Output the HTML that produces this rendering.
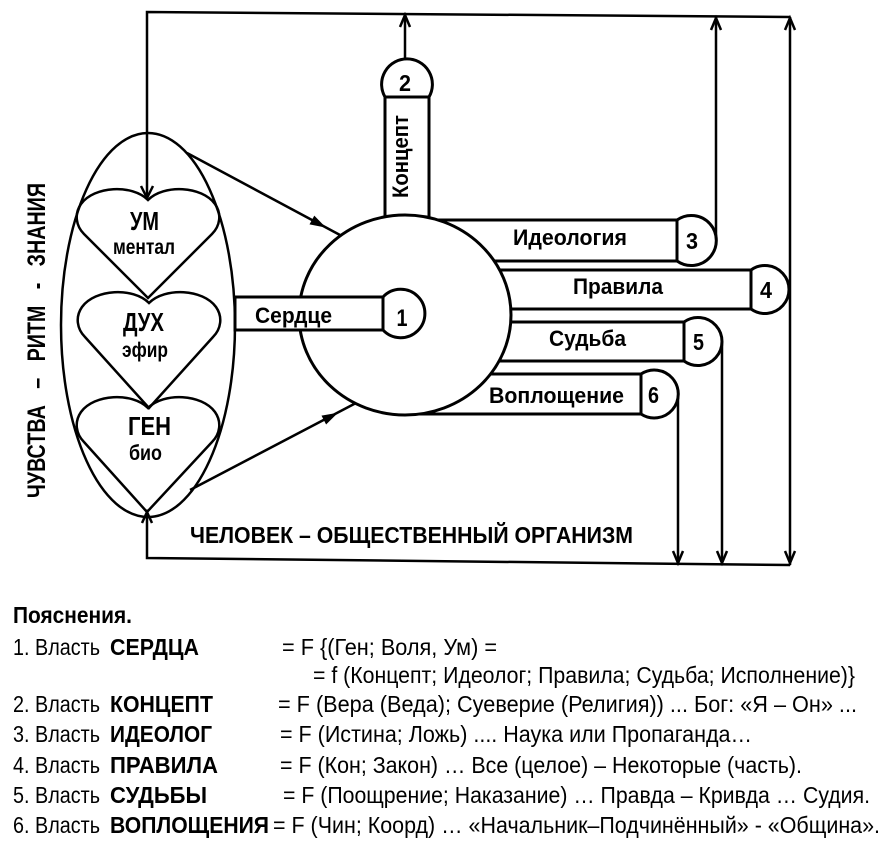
<!DOCTYPE html>
<html><head><meta charset="utf-8"><style>
html,body{margin:0;padding:0;background:#fff;}
svg{display:block;}
text{font-family:"Liberation Sans","DejaVu Sans",sans-serif;fill:#000;}
.b{font-weight:bold;}
.pre{white-space:pre;}
</style></head><body>
<svg width="891" height="848" viewBox="0 0 891 848" xmlns="http://www.w3.org/2000/svg">
<rect x="0" y="0" width="891" height="848" fill="#fff"/>

<!-- feedback loops -->
<g fill="none" stroke="#000" stroke-width="2.5" stroke-linejoin="miter">
  <path d="M147,198 L147,12 L790,17"/>
  <path d="M147,512 L147,558 L790,565"/>
  <path d="M790,17 L790,565"/>
  <path d="M716,241 L716,17"/>
  <path d="M722,342 L722,563"/>
  <path d="M678,394 L678,563"/>
  <path d="M405,59 L405,15"/>
  <!-- open arrowheads -->
  <path d="M141,186 L147,198 L153,186"/>
  <path d="M142,523 L147,512 L152,523"/>
  <path d="M400,27 L405,15 L410,27"/>
  <path d="M711,30 L716,18 L721,30"/>
  <path d="M785,30 L790,18 L795,30"/>
  <path d="M785,551 L790,563 L795,551"/>
  <path d="M717,551 L722,563 L727,551"/>
  <path d="M673,551 L678,563 L683,551"/>
  <!-- diagonal connectors -->
  <path d="M187,153 L340,235"/>
  <path d="M190,490 L356,403"/>
</g>
<polygon points="326,227.6 314.3,215.6 309.5,224.4" fill="#000"/>
<polygon points="338,412.8 326.1,424.5 321.5,415.6" fill="#000"/>

<!-- left ellipse and hearts -->
<g fill="none" stroke="#000" stroke-width="2.5">
  <ellipse cx="148" cy="325" rx="87" ry="192"/>
  <path d="M148,200 C132,184 94,186 81,204 C74,214 76,226 84,234 L148,298 L212,234 C220,226 222,214 215,204 C202,186 164,184 148,200 Z"/>
  <path d="M149,303 C133,287 95,289 82,307 C75,317 77,329 85,337 L149,408 L213,337 C221,329 223,317 216,307 C203,289 165,287 149,303 Z"/>
  <path d="M148,408 C132,392 94,394 81,412 C74,422 76,434 84,442 L147,512 L212,442 C220,434 222,422 215,412 C202,394 164,392 148,408 Z"/>
</g>

<!-- right boxes -->
<g fill="#fff" stroke="#000" stroke-width="3">
  <rect x="420" y="220" width="257" height="41"/>
  <rect x="480" y="270" width="271" height="39"/>
  <rect x="480" y="322" width="204" height="39"/>
  <rect x="415" y="374" width="226" height="40"/>
  <rect x="385" y="97" width="44" height="140"/>
  <path d="M677,220 A25 25 0 1 1 677,261 Z"/>
  <path d="M751,270 A24 24 0 1 1 751,309 Z"/>
  <path d="M684,322 A24 24 0 1 1 684,361 Z"/>
  <path d="M641,374 A24 24 0 1 1 641,414 Z"/>
  <path d="M385,97 A25.4 25.4 0 1 1 429,97 Z"/>
  <!-- big circle -->
  <ellipse cx="405" cy="315" rx="106" ry="100"/>
  <!-- heart box -->
  <rect x="235" y="297" width="148" height="33"/>
  <path d="M383,297 A24.2 24.2 0 1 1 383,330 Z"/>
</g>

<!-- heart labels -->
<g class="b">
  <text x="144.5" y="230" text-anchor="middle" font-size="26" textLength="29" lengthAdjust="spacingAndGlyphs">УМ</text>
  <text x="144" y="254" text-anchor="middle" font-size="21" textLength="62" lengthAdjust="spacingAndGlyphs">ментал</text>
  <text x="143.5" y="331" text-anchor="middle" font-size="26" textLength="41" lengthAdjust="spacingAndGlyphs">ДУХ</text>
  <text x="145" y="357" text-anchor="middle" font-size="21" textLength="46" lengthAdjust="spacingAndGlyphs">эфир</text>
  <text x="149.5" y="435" text-anchor="middle" font-size="26" textLength="43" lengthAdjust="spacingAndGlyphs">ГЕН</text>
  <text x="145.5" y="460" text-anchor="middle" font-size="21" textLength="33" lengthAdjust="spacingAndGlyphs">био</text>

  <text x="293.5" y="323" text-anchor="middle" font-size="22" textLength="77" lengthAdjust="spacingAndGlyphs">Сердце</text>
  <text x="402" y="326" text-anchor="middle" font-size="24" textLength="11" lengthAdjust="spacingAndGlyphs">1</text>
  <text x="405" y="91" text-anchor="middle" font-size="23" textLength="12" lengthAdjust="spacingAndGlyphs">2</text>
  <text x="408" y="156.5" text-anchor="middle" font-size="22" textLength="83" lengthAdjust="spacingAndGlyphs" transform="rotate(-90 408 156.5)">Концепт</text>
  <text x="570" y="245" text-anchor="middle" font-size="22" textLength="114" lengthAdjust="spacingAndGlyphs">Идеология</text>
  <text x="692" y="249" text-anchor="middle" font-size="23" textLength="12" lengthAdjust="spacingAndGlyphs">3</text>
  <text x="618" y="294" text-anchor="middle" font-size="22" textLength="90" lengthAdjust="spacingAndGlyphs">Правила</text>
  <text x="766" y="298" text-anchor="middle" font-size="23" textLength="12" lengthAdjust="spacingAndGlyphs">4</text>
  <text x="587.5" y="346" text-anchor="middle" font-size="22" textLength="77" lengthAdjust="spacingAndGlyphs">Судьба</text>
  <text x="698.5" y="350" text-anchor="middle" font-size="23" textLength="11" lengthAdjust="spacingAndGlyphs">5</text>
  <text x="556.5" y="403" text-anchor="middle" font-size="22" textLength="135" lengthAdjust="spacingAndGlyphs">Воплощение</text>
  <text x="653.5" y="403" text-anchor="middle" font-size="23" textLength="11" lengthAdjust="spacingAndGlyphs">6</text>

  <text x="190" y="543" font-size="23" textLength="443" lengthAdjust="spacingAndGlyphs">ЧЕЛОВЕК – ОБЩЕСТВЕННЫЙ ОРГАНИЗМ</text>
  <text class="pre" x="45" y="340.5" text-anchor="middle" font-size="25" textLength="315" lengthAdjust="spacingAndGlyphs" transform="rotate(-90 45 340.5)">ЧУВСТВА   –   РИТМ   -   ЗНАНИЯ</text>
</g>

<!-- explanations -->
<g font-size="23.5">
  <text class="b" x="13" y="623" textLength="119" lengthAdjust="spacingAndGlyphs">Пояснения.</text>

  <text x="13" y="655" textLength="87" lengthAdjust="spacingAndGlyphs">1. Власть</text>
  <text class="b" x="110" y="655" textLength="89" lengthAdjust="spacingAndGlyphs">СЕРДЦА</text>
  <text x="282" y="655" textLength="215" lengthAdjust="spacingAndGlyphs">= F {(Ген; Воля, Ум) =</text>

  <text x="313" y="683" textLength="542" lengthAdjust="spacingAndGlyphs">= f (Концепт; Идеолог; Правила; Судьба; Исполнение)}</text>

  <text x="13" y="712" textLength="87" lengthAdjust="spacingAndGlyphs">2. Власть</text>
  <text class="b" x="110" y="712" textLength="103" lengthAdjust="spacingAndGlyphs">КОНЦЕПТ</text>
  <text x="278" y="712" textLength="579" lengthAdjust="spacingAndGlyphs">= F (Вера (Веда); Суеверие (Религия)) ... Бог: «Я – Он» ...</text>

  <text x="13" y="742" textLength="87" lengthAdjust="spacingAndGlyphs">3. Власть</text>
  <text class="b" x="110" y="742" textLength="102" lengthAdjust="spacingAndGlyphs">ИДЕОЛОГ</text>
  <text x="280" y="742" textLength="472" lengthAdjust="spacingAndGlyphs">= F (Истина; Ложь) .... Наука или Пропаганда…</text>

  <text x="13" y="773" textLength="87" lengthAdjust="spacingAndGlyphs">4. Власть</text>
  <text class="b" x="110" y="773" textLength="108" lengthAdjust="spacingAndGlyphs">ПРАВИЛА</text>
  <text x="280" y="773" textLength="522" lengthAdjust="spacingAndGlyphs">= F (Кон; Закон) … Все (целое) – Некоторые (часть).</text>

  <text x="13" y="803" textLength="87" lengthAdjust="spacingAndGlyphs">5. Власть</text>
  <text class="b" x="110" y="803" textLength="97" lengthAdjust="spacingAndGlyphs">СУДЬБЫ</text>
  <text x="283" y="803" textLength="587" lengthAdjust="spacingAndGlyphs">= F (Поощрение; Наказание) … Правда – Кривда … Судия.</text>

  <text x="13" y="833" textLength="87" lengthAdjust="spacingAndGlyphs">6. Власть</text>
  <text class="b" x="110" y="833" textLength="159" lengthAdjust="spacingAndGlyphs">ВОПЛОЩЕНИЯ</text>
  <text x="273" y="833" textLength="607" lengthAdjust="spacingAndGlyphs">= F (Чин; Коорд) … «Начальник–Подчинённый» - «Община».</text>
</g>
</svg>
</body></html>
